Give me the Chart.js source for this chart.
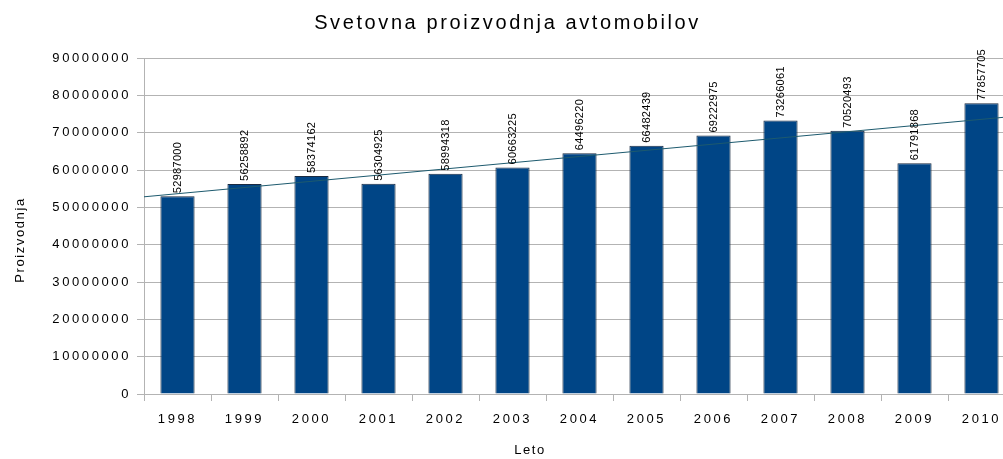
<!DOCTYPE html>
<html>
<head>
<meta charset="utf-8">
<script src="https://cdn.jsdelivr.net/npm/chart.js@4"></script>
<style>
  html, body { margin: 0; padding: 0; background: #fff; }
  #wrap { width: 1003px; height: 459px; overflow: hidden; position: relative; }
  canvas { position: absolute; left: 0; top: 0; }
</style>
</head>
<body>
<div id="wrap"><canvas id="myChart" width="1016" height="459"></canvas></div>
<script>
const years = ['1998', '1999', '2000', '2001', '2002', '2003', '2004', '2005', '2006', '2007', '2008', '2009', '2010'];
const production = [52987000, 56258892, 58374162, 56304925, 58994318, 60663225, 64496220, 66482439, 69222975, 73266061, 70520493, 61791868, 77857705];
// trend line ends (left and right edge of the plot)
const trendX = [-0.5, 12.5];
const trendY = [52820000, 74400000];
const yTicks = [0, 10000000, 20000000, 30000000, 40000000, 50000000, 60000000, 70000000, 80000000, 90000000];

const font = 'Liberation Sans, Arial, sans-serif';

// the original text is widely spaced, so space every letter out a bit
const spacing = {
  id: 'spacing',
  beforeLayout(chart) { chart.ctx.letterSpacing = '2.6px'; },
  beforeDraw(chart) { chart.ctx.letterSpacing = '2.6px'; }
};

// axis titles sit where the original put them, not centred on the clipped plot
const axisTitles = {
  id: 'axisTitles',
  afterDraw(chart) {
    const ctx = chart.ctx;
    ctx.save();
    ctx.letterSpacing = '1.6px';
    ctx.fillStyle = '#000';
    ctx.font = '13px ' + font;
    ctx.textAlign = 'center';
    ctx.textBaseline = 'middle';
    ctx.fillText('Leto', 530, 450);
    ctx.translate(20, 240);
    ctx.rotate(-Math.PI / 2);
    ctx.fillText('Proizvodnja', 0, 0);
    ctx.restore();
  }
};

const valueLabels = {
  id: 'valueLabels',
  afterDatasetsDraw(chart) {
    const ctx = chart.ctx;
    const meta = chart.getDatasetMeta(0);
    ctx.save();
    ctx.letterSpacing = '0.3px';
    ctx.fillStyle = '#000';
    ctx.font = '11px "Liberation Sans", sans-serif';
    ctx.textAlign = 'left';
    ctx.textBaseline = 'middle';
    meta.data.forEach((bar, i) => {
      ctx.save();
      ctx.translate(bar.x, bar.y - 3);
      ctx.rotate(-Math.PI / 2);
      ctx.fillText(String(production[i]), 0, 0);
      ctx.restore();
    });
    ctx.restore();
  }
};

new Chart(
  document.getElementById('myChart'),
  {
    type: 'bar',
    data: {
      labels: years,
      datasets: [
        {
          data: production,
          backgroundColor: '#004586',
          borderColor: '#1a2a40',
          borderWidth: 1,
          categoryPercentage: 1,
          barPercentage: 0.51,
          grouped: false,
          order: 1
        },
        {
          type: 'line',
          data: trendX.map((x, i) => ({ x: x, y: trendY[i] })),
          xAxisID: 'x2',
          borderColor: '#1d5a6e',
          borderWidth: 1,
          pointRadius: 0,
          order: 0
        }
      ]
    },
    options: {
      responsive: false,
      animation: false,
      layout: { padding: { left: 0, right: 1, top: 0, bottom: 0 } },
      plugins: {
        legend: { display: false },
        tooltip: { enabled: false },
        title: {
          display: true,
          text: 'Svetovna proizvodnja avtomobilov',
          color: '#000',
          font: { family: font, size: 20, weight: 'normal' },
          padding: { top: 11, bottom: 23 }
        }
      },
      scales: {
        x: {
          grid: { drawOnChartArea: false, offset: true, tickLength: 7, color: '#b3b3b3' },
          border: { color: '#b3b3b3' },
          ticks: { color: '#000', font: { family: font, size: 13 }, padding: 11 },
          afterFit: (axis) => { axis.height = 65; }
        },
        x2: {
          type: 'linear',
          display: false,
          offset: false,
          min: -0.5,
          max: 12.5
        },
        y: {
          min: 0,
          max: 90000000,
          afterBuildTicks: (axis) => { axis.ticks = yTicks.map(v => ({ value: v })); },
          afterFit: (axis) => { axis.width = 144; },
          grid: { color: '#b3b3b3', tickLength: 7 },
          border: { color: '#b3b3b3' },
          ticks: { color: '#000', font: { family: font, size: 13 }, padding: 6, callback: (v) => String(v) }
        }
      }
    },
    plugins: [spacing, axisTitles, valueLabels]
  }
);
</script>
</body>
</html>
